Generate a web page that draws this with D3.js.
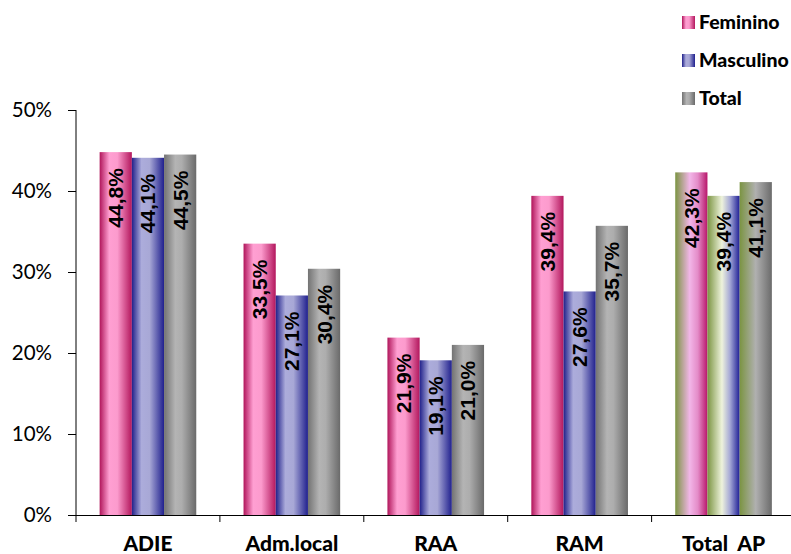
<!DOCTYPE html>
<html>
<head>
<meta charset="utf-8">
<script src="https://cdn.jsdelivr.net/npm/d3@7"></script>
<style>
  html, body { margin: 0; padding: 0; background: #fff; }
  svg { display: block; }
</style>
</head>
<body>
<svg id="chart" width="791" height="554"></svg>
<script>
// ---- data ----
const categories = ["ADIE", "Adm.local", "RAA", "RAM", "Total  AP"];
const series = ["Feminino", "Masculino", "Total"];
const feminino = [44.8, 33.5, 21.9, 39.4, 42.3];
const masculino = [44.1, 27.1, 19.1, 27.6, 39.4];
const total = [44.5, 30.4, 21.0, 35.7, 41.1];
const yTicks = [0, 10, 20, 30, 40, 50];

const values = { Feminino: feminino, Masculino: masculino, Total: total };

const svg = d3.select("#chart");
const defs = svg.append("defs");

// gradients
const normalGrad = {
  Feminino: [["0%", "#b0155a"], ["30%", "#ff9fd2"], ["55%", "#fc9bcd"], ["100%", "#b3175d"]],
  Masculino: [["0%", "#20208a"], ["30%", "#acacdb"], ["55%", "#a8a8d6"], ["100%", "#20208e"]],
  Total: [["0%", "#737373"], ["35%", "#b4b4b4"], ["55%", "#adadad"], ["100%", "#6a6a6a"]]
};
const apGrad = {
  Feminino: [["0%", "#7b9442"], ["45%", "#f2b6e8"], ["70%", "#e48cc8"], ["100%", "#b8166a"]],
  Masculino: [["0%", "#7b9442"], ["45%", "#eef3dc"], ["70%", "#a5a8d6"], ["100%", "#1f1f96"]],
  Total: [["0%", "#7b9442"], ["50%", "#b0b0b0"], ["100%", "#6b6b6b"]]
};
function makeGrad(id, stops) {
  const g = defs.append("linearGradient").attr("id", id)
    .attr("x1", "0%").attr("x2", "100%").attr("y1", "0%").attr("y2", "0%");
  stops.forEach(s => g.append("stop").attr("offset", s[0]).attr("stop-color", s[1]));
}
series.forEach((s, i) => {
  makeGrad("g" + i, normalGrad[s]);
  makeGrad("ap" + i, apGrad[s]);
});

// scales
const x0 = d3.scaleBand().domain(categories).range([76, 795.5]).paddingInner(0).paddingOuter(0);
const x1 = d3.scaleBand().domain(series).range([0, x0.bandwidth()]).paddingInner(0).paddingOuter(0.734);
const y = d3.scaleLinear().domain([0, 50]).range([515, 110]);

// bars
categories.forEach((c, ci) => {
  series.forEach((s, si) => {
    const v = values[s][ci];
    const bx = x0(c) + x1(s);
    const bw = x1.bandwidth();
    const fill = ci === categories.length - 1 ? `url(#ap${si})` : `url(#g${si})`;
    svg.append("rect")
      .attr("x", bx).attr("y", y(v))
      .attr("width", bw).attr("height", y(0) - y(v))
      .attr("fill", fill);
    const cx = bx + bw / 2;
    svg.append("text")
      .attr("transform", `translate(${cx + 7.5},${y(v) + 16}) rotate(-90)`)
      .attr("text-anchor", "end")
      .attr("font-family", "Liberation Sans, Arial, sans-serif")
      .attr("font-weight", "bold")
      .attr("font-size", 21)
      .attr("fill", "#000")
      .text(v.toFixed(1).replace(".", ",") + "%");
  });
});

// y axis
const yAxis = d3.axisLeft(y).tickValues(yTicks).tickSize(8).tickPadding(16).tickFormat(d => d + "%");
const gy = svg.append("g").attr("transform", "translate(76,0)").call(yAxis);
gy.select(".domain").attr("stroke", "#000").attr("d", "M0,110V522");
gy.selectAll(".tick line").attr("stroke", "#000");
gy.selectAll(".tick text")
  .attr("font-family", "Lato, sans-serif")
  .attr("font-size", 20.5)
  .attr("fill", "#000")
  .attr("dy", "0.3em");

// x axis
const boundaries = categories.map(c => x0(c)).slice(1);
svg.append("line").attr("x1", 76).attr("x2", 791).attr("y1", 515.5).attr("y2", 515.5)
  .attr("stroke", "#000");
svg.selectAll(".xtick").data(boundaries).enter().append("line")
  .attr("x1", d => d).attr("x2", d => d).attr("y1", 515).attr("y2", 522)
  .attr("stroke", "#000");
svg.selectAll(".xlab").data(categories).enter().append("text")
  .attr("x", d => x0(d) + x0.bandwidth() / 2)
  .attr("y", 551)
  .attr("text-anchor", "middle")
  .attr("font-family", "Lato, sans-serif")
  .attr("font-weight", "900")
  .attr("font-size", 21)
  .attr("fill", "#000")
  .attr("xml:space", "preserve")
  .style("white-space", "pre")
  .text(d => d);

// legend
series.forEach((s, i) => {
  const ly = 16 + i * 38;
  svg.append("rect").attr("x", 682).attr("y", ly).attr("width", 13).attr("height", 13)
    .attr("fill", `url(#g${i})`);
  svg.append("text").attr("x", 699).attr("y", ly + 12.5)
    .attr("font-family", "Lato, sans-serif")
    .attr("font-weight", "900")
    .attr("font-size", 19.5)
    .attr("fill", "#000")
    .text(s);
});
</script>
</body>
</html>
